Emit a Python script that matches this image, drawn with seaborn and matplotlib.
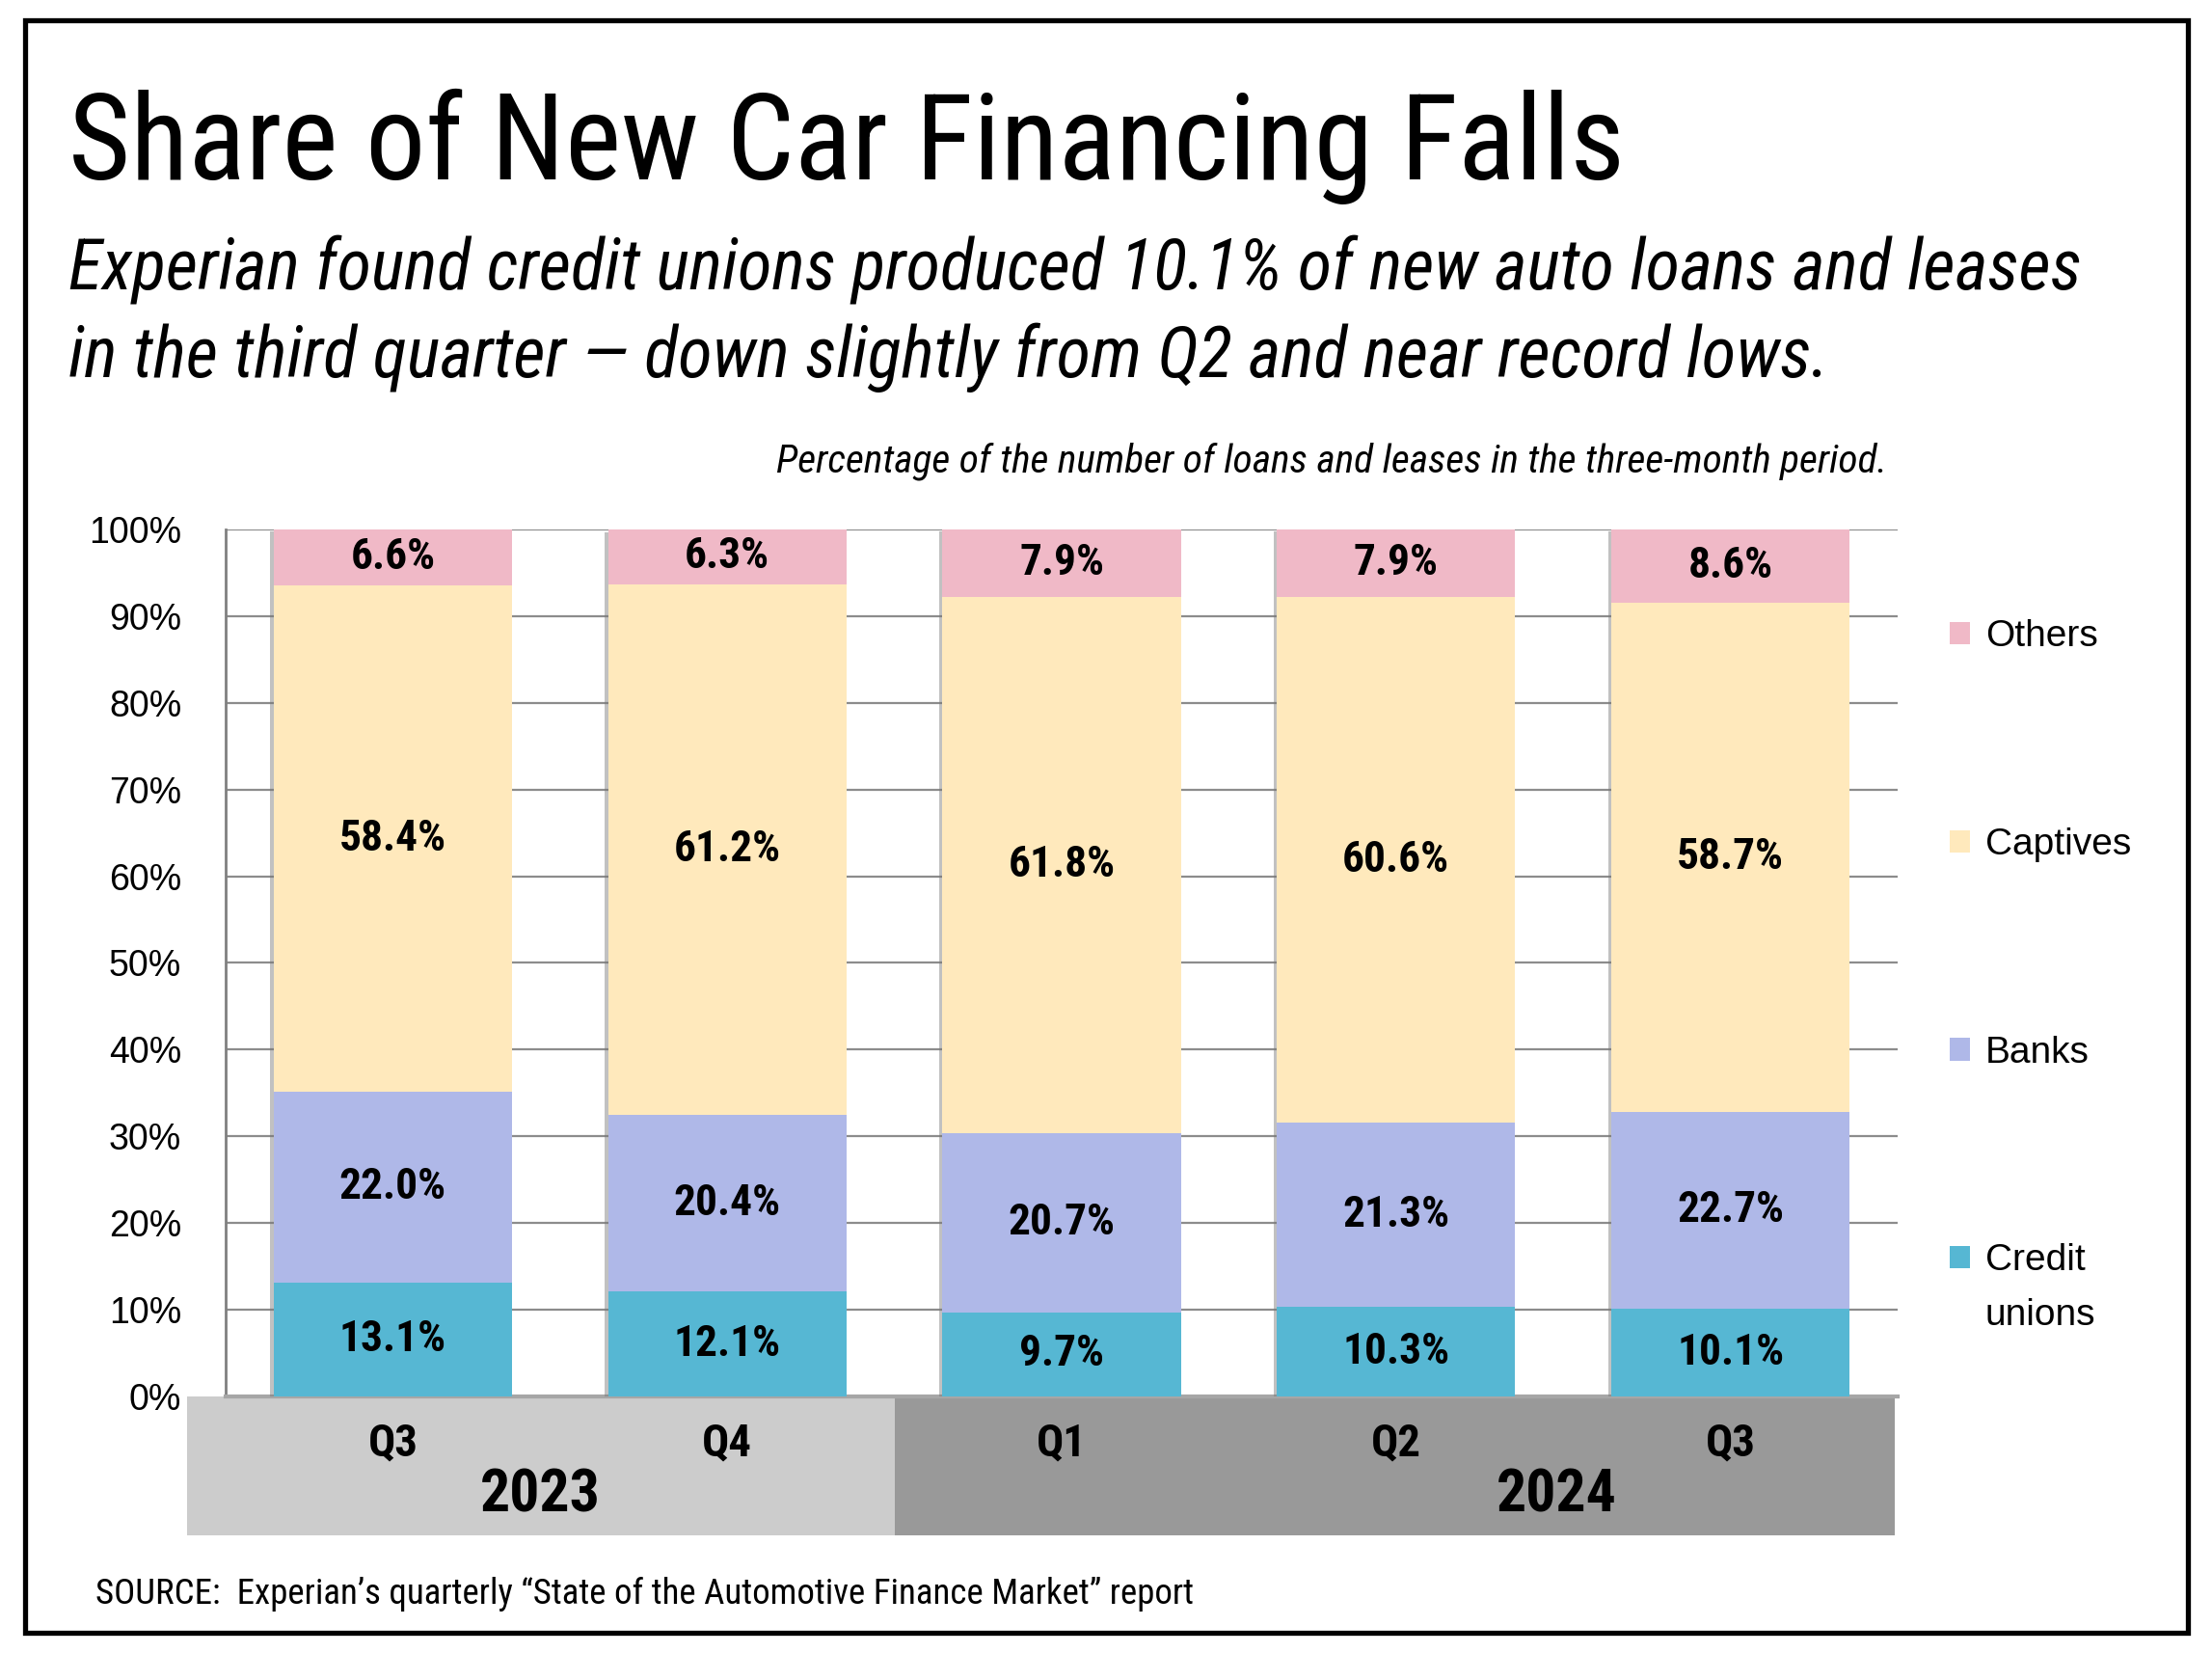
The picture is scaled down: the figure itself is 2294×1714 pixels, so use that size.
import os
import matplotlib
matplotlib.use("Agg")
import matplotlib.pyplot as plt
import matplotlib.patheffects as pe
from matplotlib import font_manager
from matplotlib.font_manager import FontProperties
from matplotlib.patches import Patch, Rectangle
import seaborn as sns
import pandas as pd
import numpy as np

# data
quarters = ["Q3", "Q4", "Q1", "Q2", "Q3"]
years = ["2023", "2023", "2024", "2024", "2024"]
credit_unions = [13.1, 12.1, 9.7, 10.3, 10.1]
banks = [22.0, 20.4, 20.7, 21.3, 22.7]
captives = [58.4, 61.2, 61.8, 60.6, 58.7]
others = [6.6, 6.3, 7.9, 7.9, 8.6]
segments = ["Credit unions", "Banks", "Captives", "Others"]
colors = {"Credit unions": "#56b7d3", "Banks": "#afb8e8",
          "Captives": "#ffe9bc", "Others": "#f0b9c7"}

# long table with cumulative tops, for stacked bars
periods = [f"{q} {y}" for q, y in zip(quarters, years)]
rows = []
for i, p in enumerate(periods):
    bottom = 0
    for seg, vals in zip(segments, [credit_unions, banks, captives, others]):
        rows.append({"period": p, "idx": i, "segment": seg, "value": vals[i],
                     "bottom": bottom, "top": bottom + vals[i]})
        bottom += vals[i]
df = pd.DataFrame(rows)

sns.set_style("white")
names = {f.name for f in font_manager.fontManager.ttflist}
REG = "Liberation Sans" if "Liberation Sans" in names else "DejaVu Sans"
plt.rcParams["font.family"] = [REG, "DejaVu Sans"]
plt.rcParams.update({"text.color": "black", "xtick.color": "black",
                     "ytick.color": "black", "axes.labelcolor": "black"})


def _weight(f):
    w = f.weight
    if isinstance(w, str):
        w = font_manager.weight_dict.get(w, 400)
    return w


def cond_font(bold=False, italic=False):
    # look for a narrow / condensed face among the installed fonts
    prefs = ["liberation sans narrow", "roboto condensed", "open sans condensed",
             "noto sans", "dejavu sans", "lato", "inter"]
    best, best_score = None, None
    for f in font_manager.fontManager.ttflist:
        nm = f.name.lower()
        fn = os.path.basename(f.fname).lower()
        if not ("narrow" in nm or "condensed" in nm or "narrow" in fn or "condensed" in fn
                or str(f.stretch) == "condensed"):
            continue
        if (f.style in ("italic", "oblique")) != italic:
            continue
        w = _weight(f)
        if bold and not (600 <= w <= 750):
            continue
        if not bold and not (350 <= w <= 500):
            continue
        fam = next((k for k, p in enumerate(prefs) if nm.startswith(p)), len(prefs))
        if "semi" in fn:
            width = 2
        elif "extra" in fn or "ultra" in fn:
            width = 1
        else:
            width = 0
        score = (fam, width)
        if best_score is None or score < best_score:
            best, best_score = f, score
    if best is not None:
        return FontProperties(fname=best.fname)
    return FontProperties(family="DejaVu Sans", stretch="condensed",
                          weight="bold" if bold else "normal",
                          style="italic" if italic else "normal")


F_REG = cond_font()
F_BOLD = cond_font(bold=True)
F_ITAL = cond_font(italic=True)

fig = plt.figure(figsize=(22.94, 17.14), dpi=100)
ax = fig.add_axes([0.102, 0.1552, 0.7559, 0.5245])

# draw tallest cumulative bars first so shorter ones sit on top
for n, seg in enumerate(reversed(segments)):
    sub = df[df["segment"] == seg]
    before = len(ax.patches)
    sns.barplot(data=sub, x="period", y="top", order=periods, color=colors[seg],
                saturation=1, width=0.713, errorbar=None, ax=ax, zorder=3,
                linewidth=0)
    if n == 0:
        for bar in ax.patches[before:]:
            bar.set_path_effects([pe.SimplePatchShadow(offset=(-2.5, -2), shadow_rgbFace="#777777", alpha=0.45),
                                  pe.Normal()])

value_texts = []
for _, r in df.iterrows():
    t = ax.text(r["idx"], r["bottom"] + r["value"] / 2, f"{r['value']:.1f}%",
                ha="center", va="center", fontproperties=F_BOLD, fontsize=35, zorder=5)
    value_texts.append(t)

ax.set_xlim(-0.5, 4.5)
ax.set_ylim(0, 100)
ax.set_yticks(range(0, 101, 10), labels=[f"{v}%" for v in range(0, 101, 10)])
ax.yaxis.grid(True, color="#8c8c8c", linewidth=1.6)
ax.set_axisbelow(True)
ax.tick_params(axis="y", length=11, width=1.6, color="#808080", pad=22, labelsize=27)
ax.set_xticks(range(5), labels=quarters)
ax.tick_params(axis="x", length=0, pad=19)
for lab in ax.get_xticklabels():
    lab.set_fontproperties(F_BOLD)
    lab.set_fontsize(33)
ax.set_xticks(np.arange(-0.5, 5, 1), minor=True)
ax.tick_params(axis="x", which="minor", length=10, width=1.6, color="#808080")
ax.set_xlabel("")
ax.set_ylabel("")
for s in ["top", "right"]:
    ax.spines[s].set_visible(False)
ax.spines["left"].set_color("#808080")
ax.spines["left"].set_linewidth(2)
ax.spines["bottom"].set_color("#a6a6a6")
ax.spines["bottom"].set_linewidth(3)

# year bands under the axis
ax.add_patch(Rectangle((-0.614, -16), 2.114, 16, facecolor="#cccccc", edgecolor="none",
                       clip_on=False, zorder=0.5))
ax.add_patch(Rectangle((1.5, -16), 2.99, 16, facecolor="#999999", edgecolor="none",
                       clip_on=False, zorder=0.5))
year_texts = [
    ax.text(0.44, -11.4, "2023", ha="center", va="center", fontproperties=F_BOLD,
            fontsize=52, clip_on=False),
    ax.text(3.48, -11.4, "2024", ha="center", va="center", fontproperties=F_BOLD,
            fontsize=52, clip_on=False),
]

handles = [Patch(facecolor=colors[s], edgecolor="none") for s in reversed(segments)]
labels = ["Others", "Captives", "Banks", "Credit"]
leg = ax.legend(handles, labels, loc="upper left", bbox_to_anchor=(1.031, 0.896), frameon=False,
                prop=FontProperties(family=[REG, "DejaVu Sans"], size=28),
                handlelength=0.55, handleheight=0.55, handletextpad=0.4,
                labelspacing=4.62, borderpad=0, borderaxespad=0)

# header texts
title = fig.text(0.031, 0.8915, "Share of New Car Financing Falls", fontproperties=F_REG,
                 fontsize=96, va="baseline", ha="left")
sub1 = fig.text(0.031, 0.825, "Experian found credit unions produced 10.1% of new auto loans and leases",
                fontproperties=F_ITAL, fontsize=50, va="baseline")
sub2 = fig.text(0.031, 0.772, "in the third quarter \u2014 down slightly from Q2 and near record lows.",
                fontproperties=F_ITAL, fontsize=50, va="baseline")
note = fig.text(0.853, 0.7147, "Percentage of the number of loans and leases in the three-month period.",
                fontproperties=F_ITAL, fontsize=30, va="baseline", ha="right")
source = fig.text(0.043, 0.0297,
                  "SOURCE:  Experian\u2019s quarterly \u201cState of the Automotive Finance Market\u201d report",
                  fontproperties=F_REG, fontsize=29, va="baseline", ha="left")

# scale the condensed texts so their widths match the original layout
fig.canvas.draw()
renderer = fig.canvas.get_renderer()


def fit(texts, ref, target_px):
    w = ref.get_window_extent(renderer).width
    k = target_px / w
    for t in texts:
        t.set_fontsize(t.get_fontsize() * k)


fit([title], title, 1616)
fit([sub1, sub2], sub1, 2092)
fit([note], note, 1148)
fit([source], source, 1142)
fit(value_texts, value_texts[2], 111)
fit(year_texts, year_texts[0], 125)
xl = ax.get_xticklabels()
fit(xl, xl[0], 52)

# second line of the "Credit unions" legend entry
fig.canvas.draw()
cb = leg.get_texts()[3].get_window_extent(renderer)
fig.text(cb.x0 / fig.bbox.width, (cb.y1 - 57) / fig.bbox.height, "unions",
         fontproperties=FontProperties(family=[REG, "DejaVu Sans"], size=28),
         va="top", ha="left")

# outer frame
fig.patches.append(Rectangle((0.0113, 0.0123), 0.9777, 0.9757, transform=fig.transFigure,
                             fill=False, edgecolor="black", linewidth=3.8))

fig.savefig("out.png", dpi=100)
